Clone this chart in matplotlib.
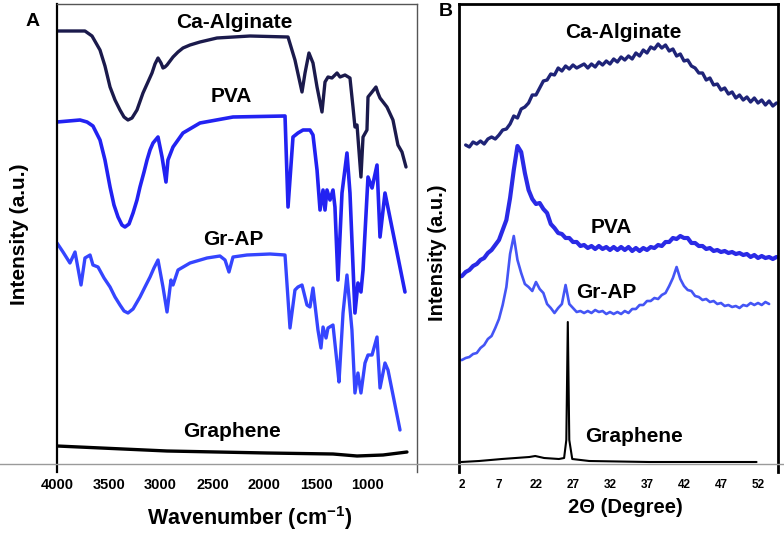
import numpy as np
import matplotlib
matplotlib.use("Agg")
import matplotlib.pyplot as plt
from matplotlib.lines import Line2D

plt.rcParams['font.family'] = ['Liberation Sans', 'DejaVu Sans']
plt.rcParams['font.weight'] = 'bold'
plt.rcParams['axes.labelweight'] = 'bold'
plt.rcParams['mathtext.fontset'] = 'custom'
plt.rcParams['mathtext.bf'] = 'Liberation Sans:bold'
plt.rcParams['mathtext.rm'] = 'Liberation Sans:bold'

nan = np.nan

# ---------------- Panel A : FTIR ----------------
ftir_xticks = [4000, 3500, 3000, 2500, 2000, 1500, 1000]

wn_alg = [4000, 3730, 3662, 3585, 3537, 3488, 3440, 3392, 3353, 3315, 3276, 3228,
          3170, 3122, 3083, 3054, 3025, 2996, 2977, 2958, 2938, 2880, 2832, 2784,
          2716, 2620, 2456, 2137, 1770, 1703, 1635, 1606, 1568, 1529, 1490,
          1442, 1413, 1384, 1346, 1297, 1268, 1220, 1172, 1143, 1124, 1104, 1066,
          1046, 1008, 998, 959, 921, 902, 882, 815, 757, 709, 670, 631]
ir_alg = [433, 433, 428, 414, 398, 377, 364, 354, 347, 344, 346, 354,
          371, 382, 391, 400, 406, 401, 396, 397, 399, 407, 412, 416,
          419, 422, 426, 428, 427, 404, 372, 391, 411, 401, 377,
          352, 382, 387, 386, 391, 387, 389, 386, 357, 337, 339, 287,
          327, 334, 367, 372, 377, 371, 366, 357, 344, 319, 312, 297]

wn_pva = [4000, 3778, 3710, 3653, 3585, 3537, 3488, 3450, 3411, 3373, 3344, 3305,
          3266, 3228, 3199, 3160, 3131, 3102, 3073, 3025,
          2986, 2948, 2929, 2880, 2784, 2620, 2301, 1799, 1770, 1722, 1674, 1625,
          1558, 1529, 1490, 1461, 1432, 1413, 1394, 1365, 1336, 1317, 1288, 1249,
          1201, 1172, 1124, 1095, 1066, 1046, 998, 959, 911, 882, 834, 641]
ir_pva = [342, 344, 342, 338, 324, 304, 277, 259, 247, 239, 237, 240,
          251, 264, 277, 292, 304, 314, 321, 327,
          307, 282, 304, 317, 331, 341, 347, 348, 257, 327, 331, 334,
          334, 329, 294, 254, 274, 254, 274, 264, 274, 257, 184, 271,
          311, 271, 151, 181, 172, 194, 287, 276, 299, 227, 271, 172]

wn_grap = [4000, 3942, 3875, 3826, 3768, 3730, 3681, 3653, 3604, 3546, 3488, 3440,
           3392, 3353, 3315, 3266, 3199, 3151, 3102, 3064, 3025, 2977, 2938, 2900,
           2880, 2832, 2716, 2552, 2427, 2378, 2340, 2301, 2166, 1944, 1799, 1751,
           1703, 1674, 1635, 1587, 1558, 1529, 1481, 1452, 1432, 1403,
           1384, 1336, 1297, 1278, 1239, 1201, 1153, 1124, 1095, 1066,
           1027, 998, 959, 911, 882, 834, 805, 689]
ir_grap = [221, 212, 201, 212, 179, 206, 209, 199, 197, 186, 177, 167,
           159, 153, 151, 155, 167, 177, 187, 196, 204, 177, 152, 184,
           179, 194, 201, 206, 208, 204, 192, 207, 209, 210, 209, 136,
           174, 177, 179, 159, 157, 176, 134, 116, 137, 126,
           136, 139, 101, 82, 151, 189, 134, 71, 91, 71,
           101, 109, 109, 127, 76, 101, 94, 34]

wn_gr = [4000, 2938, 1973, 1336, 1104, 853, 622]
ir_gr = [18, 13, 11, 10, 8, 9, 12]

# ---------------- Panel B : XRD ----------------
xrd_tick_pos = [12, 17, 22, 27, 32, 37, 42, 47, 52]
xrd_tick_labels = ['2', '7', '22', '27', '32', '37', '42', '47', '52']

two_theta = [11.5, 12.0, 12.5, 13.0, 13.5, 14.0, 14.5, 15.0, 15.5, 16.0,
             16.5, 17.0, 17.5, 18.0, 18.5, 19.0, 19.5, 20.0, 20.5, 21.0,
             21.5, 22.0, 22.5, 23.0, 23.5, 24.0, 24.5, 25.0, 25.5, 26.0,
             26.5, 27.0, 27.5, 28.0, 28.5, 29.0, 29.5, 30.0, 30.5, 31.0,
             31.5, 32.0, 32.5, 33.0, 33.5, 34.0, 34.5, 35.0, 35.5, 36.0,
             36.5, 37.0, 37.5, 38.0, 38.5, 39.0, 39.5, 40.0, 40.5, 41.0,
             41.5, 42.0, 42.5, 43.0, 43.5, 44.0, 44.5, 45.0, 45.5, 46.0,
             46.5, 47.0, 47.5, 48.0, 48.5, 49.0, 49.5, 50.0, 50.5, 51.0,
             51.5, 52.0, 52.5, 53.0, 53.5, 54.0, 54.5]

xrd_alg = [nan, nan,
           319, 317, 322, 320, 323, 320, 325, 327, 325, 329,
           334, 335, 340, 348, 346, 355, 357, 361, 369, 369,
           376, 383, 384, 390, 389, 396, 393, 398, 395, 399,
           396, 398, 400, 396, 400, 397, 402, 399, 403, 400,
           405, 402, 407, 404, 408, 405, 411, 408, 414, 411,
           417, 415, 420, 416, 419, 413, 415, 408, 410, 403,
           404, 398, 396, 391, 391, 384, 386, 379, 380, 374,
           376, 370, 372, 366, 369, 364, 367, 362, 366, 361,
           364, 359, 363, 358, 361]

xrd_pva = [187, 188, 192, 194, 198, 200, 204, 206, 211, 214,
           219, 224, 234, 244, 266, 294, 318, 312, 291, 274,
           265, 260, 261, 255, 251, 240, 236, 231, 230, 226,
           226, 222, 222, 218, 219, 216, 218, 215, 218, 215,
           217, 214, 217, 214, 217, 214, 217, 213, 216, 213,
           216, 214, 217, 216, 219, 218, 222, 222, 226, 225,
           228, 226, 226, 221, 221, 218, 218, 215, 216, 213,
           214, 212, 213, 211, 212, 210, 211, 209, 210, 207,
           209, 206, 208, 206, 207, 205, 207]

xrd_grap = [104, 104, 106, 107, 110, 111, 116, 119, 125, 128,
            136, 145, 159, 177, 210, 228, 204, 191, 180, 177,
            173, 182, 175, 171, 160, 156, 151, 156, 160, 179,
            160, 156, 152, 153, 151, 153, 151, 154, 152, 153,
            150, 152, 150, 152, 150, 153, 151, 155, 155, 159,
            159, 163, 163, 166, 165, 169, 171, 178, 186, 197,
            185, 178, 174, 173, 168, 167, 164, 165, 162, 163,
            160, 161, 158, 159, 157, 158, 156, 159, 158, 161,
            159, 161, 159, 162, 160, nan, nan]

tt_gr = [11.9, 14.3, 17.4, 21.1, 21.9, 23.1, 25.1, 25.8, 26.1, 26.3, 26.5, 26.9, 29.2, 37.3, 51.8]
xrd_gr = [2, 3, 5, 7, 8, 6, 5, 6, 24, 142, 24, 5, 3, 2, 2]

# ---------------- Figure ----------------
W, H = 784, 534
fig = plt.figure(figsize=(W / 100, H / 100), dpi=100)

def frac_box(left, right, top, bottom):
    return [left / W, 1 - bottom / H, (right - left) / W, (bottom - top) / H]

axA = fig.add_axes(frac_box(57, 417, 4, 472))
axB = fig.add_axes(frac_box(459, 778, 4, 472))

c_alg_A = '#1b1a4c'
c_pva = '#2222f2'
c_grap = '#3545ff'

kw = dict(solid_joinstyle='round', solid_capstyle='round')
axA.plot(wn_alg, ir_alg, color=c_alg_A, lw=2.4, **kw)
axA.plot(wn_pva, ir_pva, color=c_pva, lw=2.6, **kw)
axA.plot(wn_grap, ir_grap, color=c_grap, lw=2.4, **kw)
axA.plot(wn_gr, ir_gr, color='black', lw=2.4, **kw)

axA.set_xlim(4000, 525)
axA.set_ylim(-8, 460)
axA.set_xticks(ftir_xticks)
axA.set_xticklabels([str(t) for t in ftir_xticks])
axA.set_yticks([])
axA.tick_params(axis='x', length=0, pad=4, labelsize=10.5)
axA.spines['bottom'].set_visible(False)
axA.spines['left'].set_color('black')
axA.spines['left'].set_linewidth(1.6)
for s in ['top', 'right']:
    axA.spines[s].set_color('#555555')
    axA.spines[s].set_linewidth(1.0)

axA.set_xlabel(r'Wavenumber (cm$^{\mathbf{-1}}$)', fontsize=15.5)
axA.xaxis.label.set_va('center')
axA.xaxis.set_label_coords(0.536, -0.098)
axA.set_ylabel('Intensity (a.u.)', fontsize=15)
axA.yaxis.label.set_va('center')
axA.yaxis.set_label_coords(-0.103, 0.509)

tkw = dict(ha='center', va='baseline', fontsize=15, fontweight='bold')
axA.text(2292, 436, 'Ca-Alginate', **tkw)
axA.text(2320, 362, 'PVA', **tkw)
axA.text(2301, 219, 'Gr-AP', **tkw)
axA.text(2311, 27, 'Graphene', **tkw)

# Panel B
axB.plot(two_theta, xrd_alg, color='#1f2478', lw=2.4, **kw)
axB.plot(two_theta, xrd_pva, color='#2a2ae6', lw=3.0, **kw)
axB.plot(two_theta, xrd_grap, color='#4455f5', lw=1.9, **kw)
axB.plot(tt_gr, xrd_gr, color='black', lw=1.5, **kw)

axB.set_xlim(11.6, 54.7)
axB.set_ylim(-8, 460)
axB.set_xticks(xrd_tick_pos)
axB.set_xticklabels(xrd_tick_labels)
axB.set_yticks([])
axB.tick_params(axis='x', length=0, pad=5, labelsize=8.5)
axB.spines['bottom'].set_visible(False)
for s in ['left', 'top', 'right']:
    axB.spines[s].set_color('black')
    axB.spines[s].set_linewidth(2.0)

axB.set_xlabel('2Θ (Degree)', fontsize=14.5)
axB.xaxis.label.set_va('center')
axB.xaxis.set_label_coords(0.523, -0.075)
axB.set_ylabel('Intensity (a.u.)', fontsize=14.5)
axB.yaxis.label.set_va('center')
axB.yaxis.set_label_coords(-0.066, 0.468)

axB.text(33.8, 426, 'Ca-Alginate', **tkw)
axB.text(32.2, 231, 'PVA', **tkw)
axB.text(31.5, 166, 'Gr-AP', **tkw)
axB.text(35.3, 22, 'Graphene', **tkw)

# panel letters
fig.text(33 / W, 1 - 22 / H, 'A', ha='center', va='center', fontsize=14, fontweight='bold')
fig.text(446 / W, 1 - 12 / H, 'B', ha='center', va='center', fontsize=14, fontweight='bold')

# thin grey baseline across the whole figure
yb = 1 - 464 / H
fig.add_artist(Line2D([0, 1], [yb, yb], transform=fig.transFigure, color='#9a9a9a', lw=1.0))

fig.savefig('out.png', dpi=100)
